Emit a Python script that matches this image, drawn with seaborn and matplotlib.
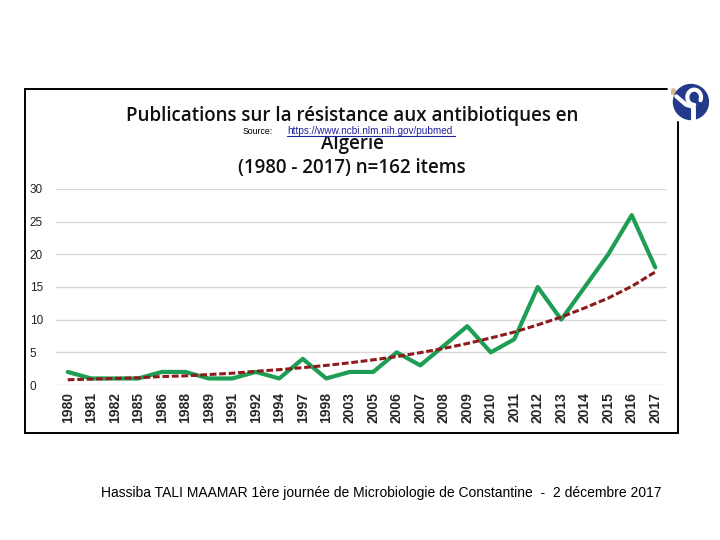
import matplotlib.pyplot as plt
import numpy as np
import pandas as pd
import seaborn as sns
from matplotlib.lines import Line2D
from matplotlib.patches import Circle

annees = ['1980', '1981', '1982', '1985', '1986', '1988', '1989', '1991', '1992',
          '1994', '1997', '1998', '2003', '2005', '2006', '2007', '2008', '2009',
          '2010', '2011', '2012', '2013', '2014', '2015', '2016', '2017']
publications = [2, 1, 1, 1, 2, 2, 1, 1, 2, 1, 4, 1, 2, 2, 5, 3, 6, 9, 5, 7,
                15, 10, 15, 20, 26, 18]
# courbe de tendance (exponentielle)
tendance = [0.8, 0.9, 1.0, 1.1, 1.3, 1.4, 1.6, 1.8, 2.1, 2.35, 2.65, 3.0, 3.4,
            3.85, 4.35, 4.95, 5.6, 6.35, 7.2, 8.1, 9.2, 10.4, 11.8, 13.3, 15.1, 17.3]
graduations = [0, 5, 10, 15, 20, 25, 30]

vert = '#1E9E55'
rouge = '#8E1B1B'

df = pd.DataFrame({'annee': annees, 'publications': publications, 'tendance': tendance})

sns.set_style('white')
plt.rcParams['font.family'] = ['Liberation Sans', 'DejaVu Sans']

W, H = 720, 540
fig = plt.figure(figsize=(7.2, 5.4), dpi=100)
fig.patch.set_facecolor('white')

ax = fig.add_axes([56 / W, 1 - 385 / H, (667 - 56) / W, (385 - 189) / H])
sns.lineplot(data=df, x='annee', y='publications', ax=ax, color=vert, linewidth=3,
             sort=False, zorder=3)
sns.lineplot(data=df, x='annee', y='tendance', ax=ax, color=rouge, linewidth=2.2,
             sort=False, zorder=4, dashes=False, linestyle=(0, (2.2, 0.9)))

ax.set_xlim(-0.5, len(annees) - 0.5)
ax.set_ylim(0, 30)
ax.set_yticks(graduations)
ax.yaxis.grid(True, color='#D9D9D9', linewidth=1)
ax.set_axisbelow(True)
for s in ax.spines.values():
    s.set_visible(False)
ax.set_xlabel('')
ax.set_ylabel('')
ax.tick_params(axis='y', length=0, pad=19, labelsize=8.5, labelcolor='#222222')
ax.tick_params(axis='x', length=0, pad=5, labelsize=10)
ax.set_xticks(range(len(annees)))
ax.set_xticklabels(annees, rotation=90, fontweight='bold')
for lbl in ax.get_yticklabels():
    lbl.set_horizontalalignment('left')

# cadre
bord = dict(color='black', linewidth=1.4, transform=fig.transFigure)
fig.lines.append(Line2D([25 / W, 667 / W], [1 - 89 / H, 1 - 89 / H], **bord))
fig.lines.append(Line2D([25 / W, 25 / W], [1 - 89 / H, 1 - 433 / H], **bord))
fig.lines.append(Line2D([25 / W, 678 / W], [1 - 433 / H, 1 - 433 / H], **bord))
fig.lines.append(Line2D([678 / W, 678 / W], [1 - 122 / H, 1 - 433 / H], **bord))

# titre
titre = dict(ha='center', va='center', fontsize=13.5, fontweight='semibold',
             family=['Open Sans', 'DejaVu Sans'], color='#111111')
fig.text(352 / W, 1 - 116 / H, 'Publications sur la résistance aux antibiotiques en', **titre)
fig.text(352 / W, 1 - 144 / H, 'Algérie', **titre)
fig.text(352 / W, 1 - 168 / H, '(1980 - 2017) n=162 items', **titre)
fig.text(243 / W, 1 - 131 / H, 'Source:', fontsize=6.3, ha='left', va='center',
         color='black', zorder=5)
fig.text(287 / W, 1 - 131 / H, 'https://www.ncbi.nlm.nih.gov/pubmed', fontsize=7.2,
         ha='left', va='center', color='#1F1F9F', zorder=5,
         bbox=dict(facecolor='white', edgecolor='none', pad=0.3))
fig.lines.append(Line2D([287 / W, 455 / W], [1 - 136 / H, 1 - 136 / H], color='#1F1F9F',
                        linewidth=0.8, transform=fig.transFigure, zorder=6))

# logo
logo = fig.add_axes([671 / W, 1 - 121 / H, 38 / W, 38 / H])
logo.set_xlim(-1, 1)
logo.set_ylim(-1, 1)
logo.set_aspect('equal')
logo.axis('off')
logo.add_patch(Circle((0.05, 0), 0.92, color='#233A8B'))
logo.add_patch(Circle((-0.88, 0.55), 0.14, color='#D8B98A', zorder=0))
t = np.linspace(-0.4, 1.5 * np.pi, 60)
logo.plot(0.22 + 0.36 * np.cos(t), 0.25 + 0.4 * np.sin(t), color='white', linewidth=3)
logo.plot([-0.72, -0.2, 0.15], [0.3, -0.15, -0.25], color='white', linewidth=3)
logo.plot([0.15, 0.15], [-0.25, -0.92], color='white', linewidth=3.5)

fig.text(381 / W, 1 - 493 / H,
         'Hassiba TALI MAAMAR 1ère journée de Microbiologie de Constantine  -  2 décembre 2017',
         fontsize=10, ha='center', va='center', color='black')

fig.savefig('out.png', dpi=100, facecolor='white')
